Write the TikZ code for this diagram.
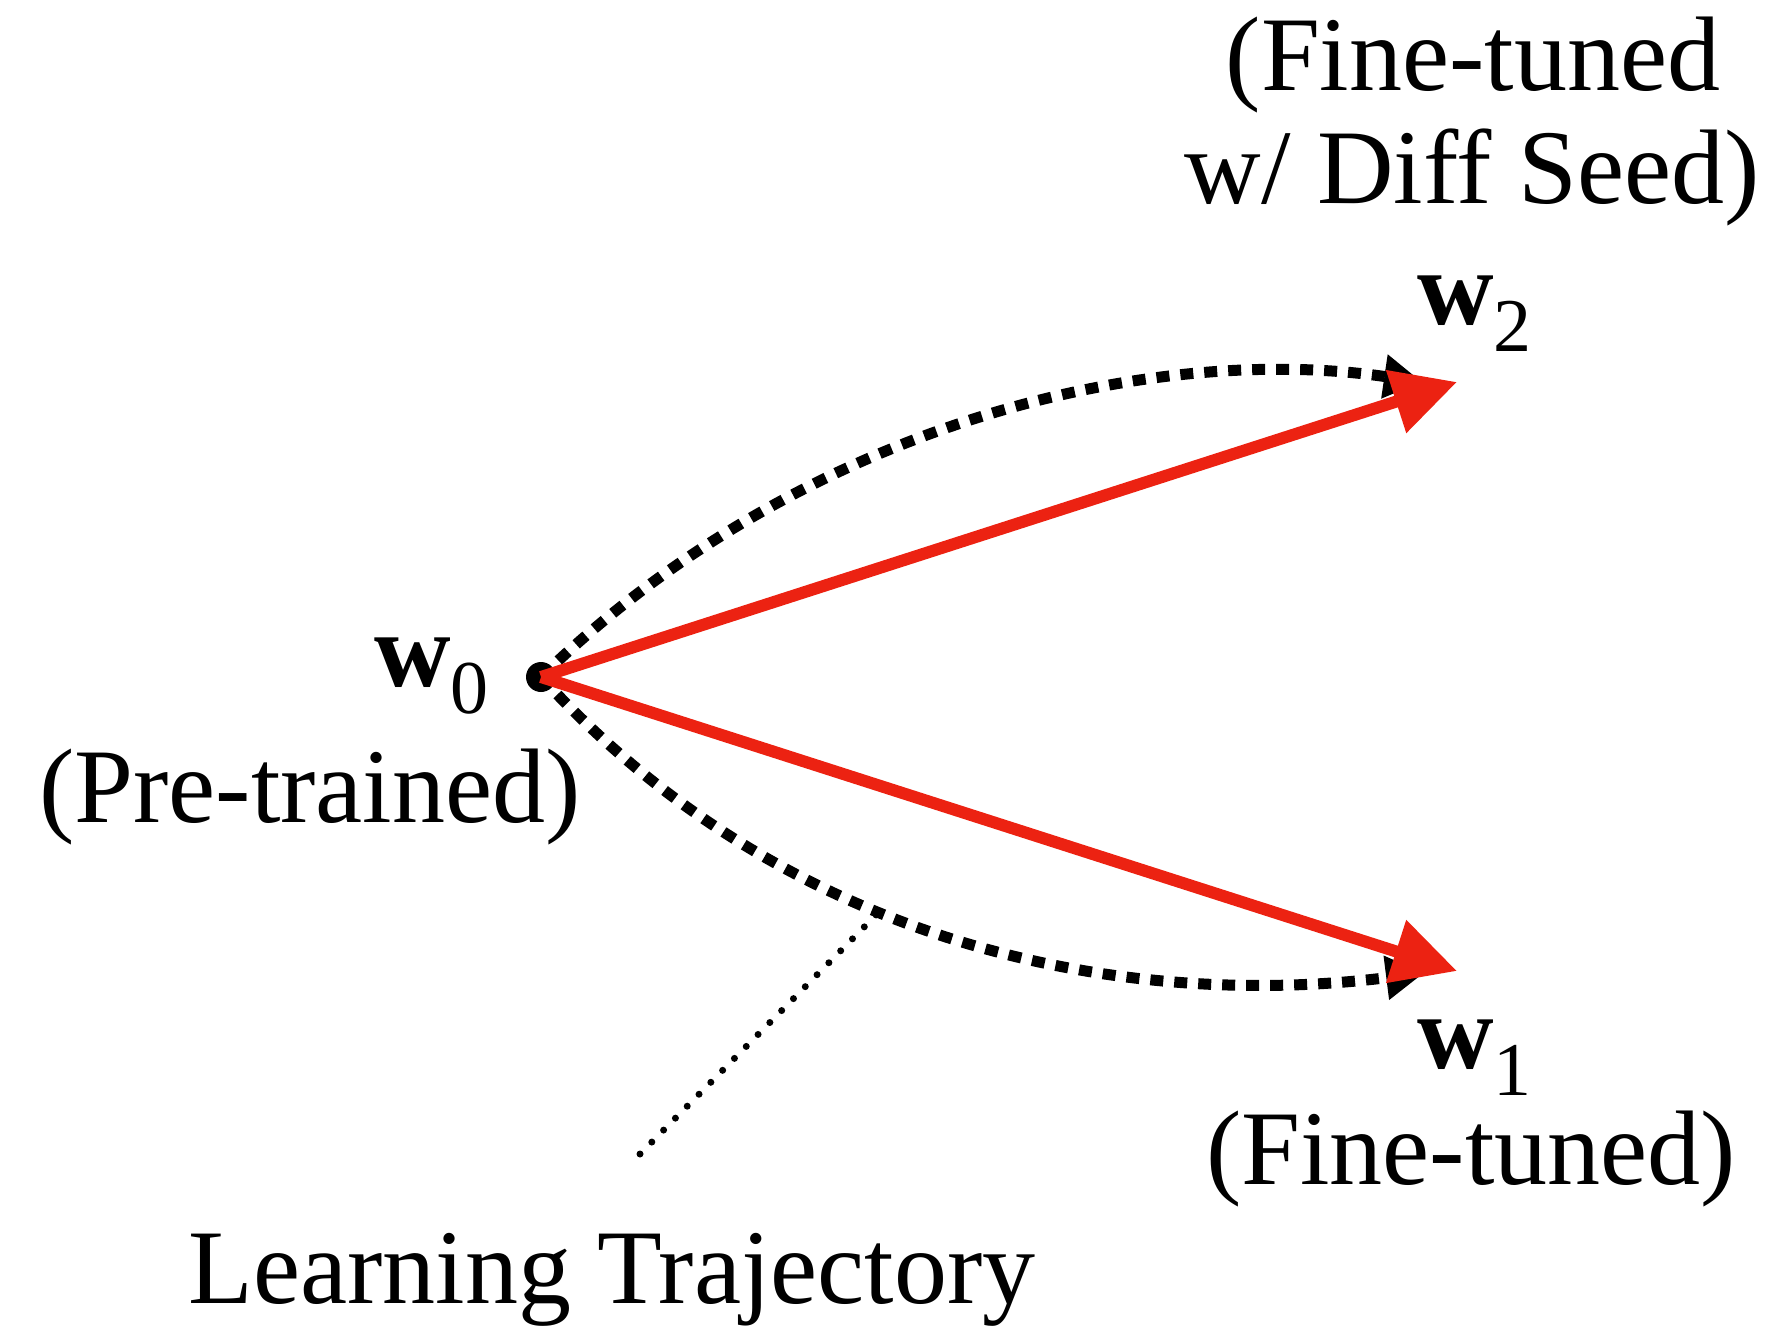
\documentclass[tikz,border=0pt]{standalone}
\usepackage{fontspec}
\setmainfont{Liberation Serif}
\usetikzlibrary{arrows.meta}
\definecolor{arrred}{RGB}{236,34,18}
\newcommand{\wsub}[1]{{\bfseries w}\raisebox{-27pt}{\fontsize{76}{76}\selectfont #1}}
\tikzset{
  lbl/.style={inner sep=0pt, font=\fontsize{106}{113}\selectfont},
  redarrow/.style={draw=arrred, line width=12pt, -{Triangle[length=64pt,width=63pt]}, arrred},
  traj/.style={draw=black, line width=11pt, dash pattern=on 13pt off 11pt, -{Triangle[length=38pt,width=42pt]}},
  thin dotted/.style={draw=black, line width=7pt, line cap=round, dash pattern=on 0pt off 16.8pt}
}
\begin{document}
\begin{tikzpicture}[x=1pt,y=1pt]
\useasboundingbox (0,0) rectangle (1777,-1329);
% points
\node[circle, fill=black, inner sep=0pt, minimum size=30pt] (w0) at (541,-677) {};
\coordinate (w2r) at (1457,-382);
\coordinate (w1r) at (1457,-971);
\coordinate (w2b) at (1422,-382);
\coordinate (w1b) at (1424,-973);
\coordinate (ltA) at (878,-913);
\coordinate (ltB) at (640,-1154);
% learning trajectories
\draw[traj] (w0.center) .. controls (800,-425) and (1150,-342) .. (w2b);
\draw[traj] (w0.center) .. controls (790,-950) and (1130,-1010) .. (w1b);
% red arrows
\draw[redarrow] (w0.center) -- (w2r);
\draw[redarrow] (w0.center) -- (w1r);
% pointer
\draw[thin dotted] (ltB) -- (ltA);
% labels
\node[lbl, anchor=base] (t1) at (1473,-91) {(Fine-tuned};
\node[lbl, anchor=base] (t2) at (1472,-204) {w/ Diff Seed)};
\node[lbl, anchor=base west] (l2) at (1417,-325) {\wsub{2}};
\node[lbl, anchor=base west] (l0) at (374,-686) {\wsub{0}};
\node[lbl, anchor=base] (pt) at (310,-822) {(Pre-trained)};
\node[lbl, anchor=base west] (l1) at (1417,-1068) {\wsub{1}};
\node[lbl, anchor=base] (ft) at (1471,-1184) {(Fine-tuned)};
\node[lbl, anchor=base] (lt) at (612,-1303) {Learning Trajectory};
\end{tikzpicture}
\end{document}
